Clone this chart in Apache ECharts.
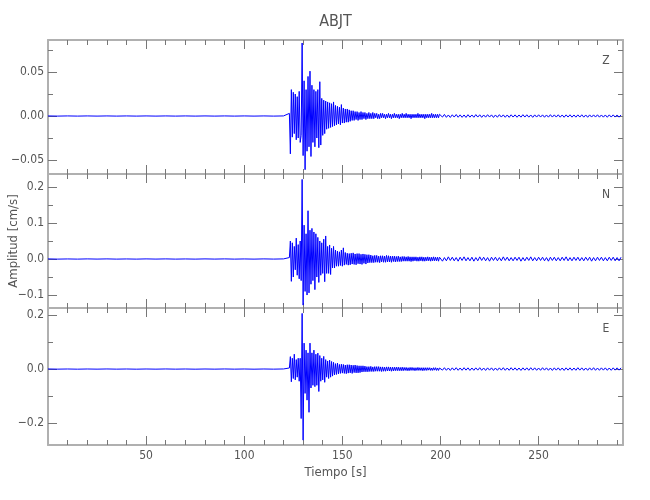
<!DOCTYPE html>
<html><head><meta charset="utf-8">
<script src="https://cdn.jsdelivr.net/npm/echarts@6/dist/echarts.min.js"></script>
<style>html,body{margin:0;padding:0;background:#fff}#c{width:650px;height:500px}</style>
</head><body><div id="c"></div>
<script>
// ---------- data ----------
const stationName = 'ABJT';
const componentNames = ['Z', 'N', 'E'];
const yAxisTitle = 'Amplitud [cm/s]';
const xAxisTitle = 'Tiempo [s]';
const xRange = [0, 293];
const xMajorTicks = [50, 100, 150, 200, 250];
const xMinorTicks = [10, 20, 30, 40, 60, 70, 80, 90, 110, 120, 130, 140, 160, 170, 180, 190, 210, 220, 230, 240, 260, 270, 280, 290];
const zRange = [-0.0659, 0.0864];
const zMajorTicks = [-0.05, 0, 0.05];
const zMinorTicks = [-0.025, 0.025, 0.075];
const nRange = [-0.136, 0.236];
const nMajorTicks = [-0.1, 0, 0.1, 0.2];
const nMinorTicks = [-0.05, 0.05, 0.15];
const eRange = [-0.281, 0.226];
const eMajorTicks = [-0.2, 0, 0.2];
const eMinorTicks = [-0.1, 0.1];

// sample timing of the three record segments (s)
const preStart = 0, preStep = 5;
const activeStart = 123, activeStep = 0.5;
const tailStart = 200, tailStep = 1;

const zPre = [0.0001,-0.0001,0.0001,-0.0001,0.0001,-0.0001,0.0001,-0.0001,0.0001,-0.0001,0.0001,-0.0001,0.0001,-0.0001,0.0001,-0.0001,0.0001,-0.0001,0.0001,-0.0001,0.0001,-0.0001,0.0001,-0.0001,0.0001];
const zActive = [
0.003,-0.043,0.030,-0.024,0.027,-0.020,0.025,-0.027,0.022,-0.025,
0.028,-0.030,-0.022,0.083,-0.045,0.040,-0.061,0.030,-0.040,0.045,
-0.035,0.051,-0.046,0.035,-0.030,0.030,-0.035,0.028,-0.025,0.030,
-0.036,0.039,-0.033,0.020,-0.022,0.018,-0.020,0.017,-0.015,0.016,
-0.014,0.015,-0.013,0.014,-0.012,0.016,-0.011,0.012,-0.010,0.011,
-0.009,0.010,-0.010,0.013,-0.008,0.009,-0.008,0.008,-0.007,0.008,
-0.007,0.007,-0.006,0.006,-0.005,0.006,-0.005,0.005,-0.004,0.005,
-0.005,0.004,-0.004,0.005,-0.004,0.004,-0.003,0.004,-0.004,0.003,
-0.003,0.004,-0.003,0.003,-0.003,0.004,-0.003,0.003,-0.002,0.003,
-0.003,0.002,-0.003,0.003,-0.002,0.003,-0.002,0.002,-0.003,0.002,
-0.002,0.003,-0.002,0.002,-0.003,0.002,-0.002,0.003,-0.002,0.002,
-0.002,0.002,-0.003,0.002,-0.002,0.003,-0.002,0.002,-0.002,0.003,
-0.002,0.002,-0.002,0.002,-0.003,0.002,-0.002,0.002,-0.002,0.002,
-0.002,0.003,-0.002,0.002,-0.002,0.002,-0.002,0.002,-0.003,0.002,
-0.002,0.002,-0.002,0.002,-0.002,0.003,-0.002,0.002,-0.002,0.002,
-0.002,0.002,-0.002,0.002];
const zTail = [
0.0015,-0.0012,0.0018,-0.0015,0.0012,-0.0016,0.0014,-0.0012,0.0017,-0.0014,
0.0013,-0.0015,0.0012,-0.0016,0.0015,-0.0013,0.0012,-0.0014,0.0016,-0.0012,
0.0014,-0.0015,0.0012,-0.0013,0.0015,-0.0012,0.0013,-0.0016,0.0012,-0.0014,
0.0015,-0.0012,0.0013,-0.0014,0.0012,-0.0015,0.0014,-0.0012,0.0013,-0.0014,
0.0012,-0.0013,0.0015,-0.0012,0.0014,-0.0013,0.0012,-0.0015,0.0013,-0.0012,
0.0014,-0.0012,0.0013,-0.0014,0.0012,-0.0013,0.0015,-0.0012,0.0013,-0.0012,
0.0014,-0.0013,0.0012,-0.0014,0.0013,-0.0012,0.0014,-0.0013,0.0012,-0.0013,
0.0013,-0.0012,0.0014,-0.0013,0.0012,-0.0014,0.0013,-0.0012,0.0013,-0.0012,
0.0014,-0.0013,0.0012,-0.0013,0.0012,-0.0014,0.0013,-0.0012,0.0013,-0.0012,
0.0012,-0.0013,0.0012];

const nPre = [0.0003,-0.0003,0.0002,-0.0003,0.0003,-0.0002,0.0003,-0.0003,0.0002,-0.0003,0.0003,-0.0002,0.0003,-0.0003,0.0002,-0.0003,0.0003,-0.0002,0.0003,-0.0003,0.0002,-0.0003,0.0003,-0.0002,0.0003];
const nActive = [
0.004,0.050,-0.062,0.045,-0.050,0.035,-0.030,0.058,-0.045,0.040,
-0.055,0.050,-0.060,0.221,-0.128,0.094,-0.090,0.070,-0.100,0.134,
-0.094,0.080,-0.070,0.085,-0.060,0.075,-0.085,0.070,-0.050,0.060,
-0.065,0.050,-0.045,0.045,-0.040,0.055,-0.063,0.064,-0.040,0.035,
-0.040,0.039,-0.043,0.030,-0.025,0.035,-0.025,0.025,-0.020,0.022,
-0.020,0.020,-0.018,0.025,-0.020,0.031,-0.017,0.018,-0.015,0.016,
-0.017,0.015,-0.016,0.016,-0.014,0.017,-0.015,0.014,-0.016,0.015,
-0.013,0.015,-0.014,0.013,-0.015,0.014,-0.012,0.013,-0.014,0.012,
-0.011,0.012,-0.010,0.011,-0.010,0.009,-0.010,0.010,-0.009,0.010,
-0.009,0.008,-0.010,0.009,-0.008,0.009,-0.009,0.008,-0.009,0.010,
-0.008,0.009,-0.008,0.008,-0.009,0.008,-0.007,0.008,-0.008,0.007,
-0.007,0.008,-0.007,0.006,-0.007,0.007,-0.006,0.007,-0.006,0.006,
-0.006,0.007,-0.006,0.006,-0.007,0.006,-0.006,0.006,-0.005,0.006,
-0.006,0.005,-0.006,0.006,-0.005,0.006,-0.006,0.005,-0.006,0.005,
-0.005,0.006,-0.005,0.005,-0.006,0.005,-0.005,0.006,-0.005,0.005,
-0.005,0.005,-0.006,0.005];
const nTail = [
0.005,-0.006,0.004,-0.005,0.006,-0.004,0.005,-0.005,0.004,-0.006,
0.005,-0.004,0.006,-0.005,0.004,-0.005,0.005,-0.006,0.004,-0.005,
0.006,-0.004,0.005,-0.005,0.004,-0.006,0.005,-0.004,0.005,-0.005,
0.004,-0.005,0.006,-0.004,0.005,-0.005,0.004,-0.005,0.005,-0.004,
0.005,-0.006,0.004,-0.005,0.005,-0.004,0.006,-0.005,0.004,-0.005,
0.005,-0.004,0.005,-0.005,0.004,-0.006,0.005,-0.004,0.005,-0.005,
0.004,-0.005,0.005,-0.004,0.006,-0.005,0.004,-0.005,0.005,-0.004,
0.005,-0.005,0.004,-0.005,0.005,-0.004,0.005,-0.006,0.004,-0.005,
0.005,-0.004,0.005,-0.005,0.004,-0.005,0.005,-0.004,0.005,-0.005,
0.004,-0.005,0.005];

const ePre = [0.0004,-0.0003,0.0003,-0.0004,0.0003,-0.0003,0.0004,-0.0003,0.0003,-0.0004,0.0003,-0.0003,0.0004,-0.0003,0.0003,-0.0004,0.0003,-0.0003,0.0004,-0.0003,0.0003,-0.0004,0.0003,-0.0003,0.0004];
const eActive = [
0.004,0.046,-0.047,0.040,-0.035,0.055,-0.040,0.035,-0.030,0.040,
-0.045,0.040,-0.183,0.206,-0.263,0.096,-0.090,0.070,-0.115,0.060,
-0.160,0.096,-0.070,0.060,-0.060,0.070,-0.065,0.055,-0.060,0.059,
-0.083,0.050,-0.045,0.040,-0.040,0.047,-0.049,0.035,-0.030,0.030,
-0.035,0.033,-0.030,0.028,-0.026,0.025,-0.022,0.020,-0.020,0.022,
-0.018,0.017,-0.016,0.018,-0.015,0.017,-0.016,0.015,-0.017,0.016,
-0.015,0.016,-0.014,0.015,-0.016,0.014,-0.013,0.015,-0.014,0.013,
-0.014,0.012,-0.013,0.012,-0.011,0.012,-0.010,0.011,-0.010,0.009,
-0.010,0.009,-0.009,0.010,-0.009,0.008,-0.009,0.009,-0.008,0.009,
-0.008,0.009,-0.008,0.008,-0.009,0.008,-0.008,0.007,-0.008,0.008,
-0.007,0.008,-0.007,0.007,-0.008,0.007,-0.007,0.007,-0.006,0.007,
-0.006,0.007,-0.006,0.006,-0.006,0.007,-0.006,0.006,-0.005,0.006,
-0.006,0.005,-0.006,0.006,-0.005,0.006,-0.005,0.005,-0.006,0.005,
-0.005,0.006,-0.005,0.005,-0.005,0.005,-0.006,0.005,-0.005,0.005,
-0.005,0.005,-0.004,0.005,-0.005,0.004,-0.005,0.005,-0.004,0.005,
-0.005,0.004,-0.005,0.004];
const eTail = [
0.0045,-0.004,0.005,-0.0045,0.004,-0.005,0.0045,-0.004,0.005,-0.0045,
0.004,-0.0045,0.005,-0.004,0.0045,-0.005,0.004,-0.0045,0.0045,-0.004,
0.005,-0.0045,0.004,-0.005,0.0045,-0.004,0.0045,-0.005,0.004,-0.0045,
0.0045,-0.004,0.005,-0.0045,0.004,-0.0045,0.005,-0.004,0.0045,-0.0045,
0.004,-0.005,0.0045,-0.004,0.0045,-0.0045,0.005,-0.004,0.0045,-0.0045,
0.004,-0.0045,0.005,-0.004,0.0045,-0.0045,0.004,-0.005,0.0045,-0.004,
0.0045,-0.0045,0.004,-0.005,0.0045,-0.004,0.0045,-0.0045,0.004,-0.0045,
0.005,-0.004,0.0045,-0.0045,0.004,-0.0045,0.0045,-0.004,0.005,-0.0045,
0.004,-0.0045,0.0045,-0.004,0.0045,-0.0045,0.004,-0.0045,0.0045,-0.004,
0.0045,-0.004,0.0045];

// ---------- build ----------
function trace(pre, active, tail) {
  const d = [];
  pre.forEach((v, i) => d.push([preStart + i * preStep, v]));
  active.forEach((v, i) => d.push([activeStart + i * activeStep, v]));
  tail.forEach((v, i) => d.push([tailStart + i * tailStep, v]));
  return d;
}
const traces = [trace(zPre, zActive, zTail), trace(nPre, nActive, nTail), trace(ePre, eActive, eTail)];
const yRanges = [zRange, nRange, eRange];
const yMajors = [zMajorTicks, nMajorTicks, eMajorTicks];
const yMinors = [zMinorTicks, nMinorTicks, eMinorTicks];
const yDecimals = [2, 1, 1];

const FONT = "'Liberation Sans Narrow', 'DejaVu Sans Condensed', sans-serif";
const TXT = '#555';
const BORDER = {color: '#b0b0b0', width: 2};
const TICKC = {color: '#777', width: 1};
const panels = [{top: 40, height: 134}, {top: 174, height: 134}, {top: 308, height: 137}];
const LEFT = 48, WIDTH = 575;

const grids = [], xAxes = [], yAxes = [], series = [];
panels.forEach((p, g) => {
  grids.push({left: LEFT, top: p.top, width: WIDTH, height: p.height, containLabel: false, outerBoundsMode: 'none'});
  const xb = {type: 'value', gridIndex: g, min: xRange[0], max: xRange[1], splitLine: {show: false}, axisLabel: {show: false}};
  const last = g === panels.length - 1;
  ['bottom', 'top'].forEach(pos => {
    xAxes.push(Object.assign({}, xb, {
      position: pos,
      axisLine: {show: true, onZero: false, lineStyle: BORDER},
      axisTick: {show: true, inside: true, length: 9, customValues: xMajorTicks, lineStyle: TICKC},
      axisLabel: (last && pos === 'bottom') ? {show: true, customValues: xMajorTicks, margin: 5, color: TXT, fontSize: 12, fontFamily: FONT} : {show: false},
      name: (last && pos === 'bottom') ? xAxisTitle : '',
      nameLocation: 'middle', nameGap: 21,
      nameTextStyle: {color: TXT, fontSize: 13, fontFamily: FONT}
    }));
    xAxes.push(Object.assign({}, xb, {
      position: pos,
      axisLine: {show: false, onZero: false},
      axisTick: {show: true, inside: true, length: 5, customValues: xMinorTicks, lineStyle: TICKC}
    }));
  });
  const yb = {type: 'value', gridIndex: g, min: yRanges[g][0], max: yRanges[g][1], splitLine: {show: false}, axisLabel: {show: false}};
  const dec = yDecimals[g];
  ['left', 'right'].forEach(pos => {
    yAxes.push(Object.assign({}, yb, {
      position: pos,
      axisLine: {show: true, onZero: false, lineStyle: BORDER},
      axisTick: {show: true, inside: true, length: 9, customValues: yMajors[g], lineStyle: TICKC},
      axisLabel: pos === 'left' ? {show: true, customValues: yMajors[g], margin: 4, color: TXT, fontSize: 12, fontFamily: FONT,
        formatter: v => (v < 0 ? '\u2212' : '') + Math.abs(v).toFixed(dec)} : {show: false}
    }));
    yAxes.push(Object.assign({}, yb, {
      position: pos,
      axisLine: {show: false, onZero: false},
      axisTick: {show: true, inside: true, length: 5, customValues: yMinors[g], lineStyle: TICKC}
    }));
  });
  series.push({
    type: 'line', xAxisIndex: g * 4, yAxisIndex: g * 4, data: traces[g],
    showSymbol: false, symbol: 'none', silent: true, clip: true, sampling: null,
    lineStyle: {color: '#0000ff', width: 1}
  });
});

const graphics = [
  {type: 'text', x: LEFT + WIDTH / 2, y: 22,
   style: {text: stationName, textAlign: 'center', textVerticalAlign: 'middle', fill: TXT, font: "16px " + FONT}},
  {type: 'text', x: 14, y: panels[1].top + panels[1].height / 2, rotation: Math.PI / 2,
   style: {text: yAxisTitle, textAlign: 'center', textVerticalAlign: 'middle', fill: TXT, font: "13px " + FONT}}
];
panels.forEach((p, g) => graphics.push({type: 'text', x: 606, y: p.top + 21,
  style: {text: componentNames[g], textAlign: 'center', textVerticalAlign: 'middle', fill: TXT, font: "12px " + FONT}}));

const chart = echarts.init(document.getElementById('c'), null, {renderer: 'canvas'});
chart.setOption({
  animation: false,
  backgroundColor: '#fff',
  grid: grids, xAxis: xAxes, yAxis: yAxes, series: series,
  graphic: graphics
});
</script></body></html>
